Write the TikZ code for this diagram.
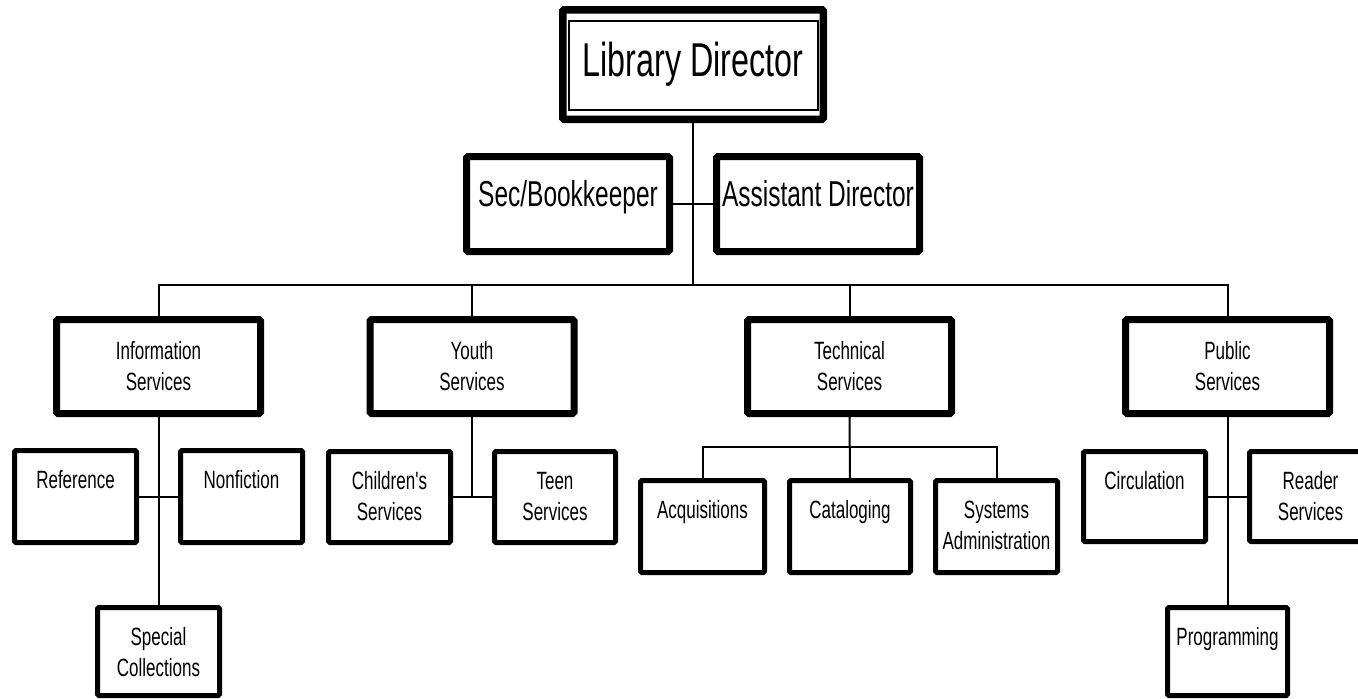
\documentclass[tikz,border=0pt]{standalone}
\usepackage{fontspec}
\setmainfont[FakeStretch=0.68, Ligatures=TeXOff]{Liberation Sans}
% box text: width, height, first baseline depth, content (top aligned)
\newcommand{\cardtext}[4]{\parbox[c][#2][t]{#1}{\centering\rule{0pt}{#3}#4}}
\begin{document}
\begin{tikzpicture}[x=1pt,y=-1pt,
  conn/.style={line width=2pt},
  boxbase/.style={draw, inner sep=0pt, outer sep=0pt, rounded corners=1.5pt},
  topbox/.style={boxbase, line width=7.5pt, font=\fontsize{47.5}{57}\selectfont},
  headbox/.style={boxbase, line width=7pt, font=\fontsize{36}{43}\selectfont},
  midbox/.style={boxbase, line width=7pt, font=\fontsize{25}{31}\selectfont},
  leafbox/.style={boxbase, line width=5pt, font=\fontsize{25}{31}\selectfont},
]
\useasboundingbox (0,0) rectangle (1358,699);
\clip (0,0) rectangle (1358,699);

% director
\node[topbox] (ld) at (693,64.5) {\cardtext{260.5pt}{109.5pt}{67pt}{Library Director}};
\draw[line width=1.8pt] ([shift={(6.25,11.25)}]ld.north west) rectangle ([shift={(-5.25,-9.25)}]ld.south east);

% staff
\node[headbox] (sb) at (568,204) {\cardtext{203pt}{95pt}{49.5pt}{Sec/Bookkeeper}};
\node[headbox] (ad) at (818,204) {\cardtext{203pt}{95pt}{49.5pt}{Assistant Director}};

% departments
\node[midbox] (info)   at (158.5,366.5)  {\cardtext{204pt}{94pt}{40pt}{Information\\Services}};
\node[midbox] (youth)  at (472,366.5)    {\cardtext{204pt}{94pt}{40pt}{Youth\\Services}};
\node[midbox] (tech)   at (849.5,366.5)  {\cardtext{204pt}{94pt}{40pt}{Technical\\Services}};
\node[midbox] (public) at (1227.5,366.5) {\cardtext{204pt}{94pt}{40pt}{Public\\Services}};

% units
\node[leafbox] (ref)    at (75.5,496.5)   {\cardtext{122pt}{92pt}{37.5pt}{Reference}};
\node[leafbox] (nonf)   at (241.5,496.5)  {\cardtext{122pt}{92pt}{37.5pt}{Nonfiction}};
\node[leafbox] (spec)   at (158.5,651.5)  {\cardtext{122pt}{88pt}{37.5pt}{Special\\Collections}};
\node[leafbox] (child)  at (389.5,497)    {\cardtext{122pt}{91pt}{37.5pt}{Children's\\Services}};
\node[leafbox] (teen)   at (555,497)      {\cardtext{121pt}{91pt}{37.5pt}{Teen\\Services}};
\node[leafbox] (acq)    at (702.5,526.5)  {\cardtext{124pt}{92pt}{37.5pt}{Acquisitions}};
\node[leafbox] (cat)    at (850,526.5)    {\cardtext{121pt}{92pt}{37.5pt}{Cataloging}};
\node[leafbox] (sys)    at (996.5,526.5)  {\cardtext{122pt}{92pt}{37.5pt}{Systems\\Administration}};
\node[leafbox] (circ)   at (1144.5,496.5) {\cardtext{122pt}{90pt}{37.5pt}{Circulation}};
\node[leafbox] (reader) at (1310.5,496.5) {\cardtext{122pt}{90pt}{37.5pt}{Reader\\Services}};
\node[leafbox] (prog)   at (1227.5,651.5) {\cardtext{120pt}{88pt}{37.5pt}{Programming}};

% connector junctions
\coordinate (bus)  at (693,285);
\coordinate (tbus) at (850,447);

% connectors
\draw[conn] (ld.south) -- (bus);
\draw[conn] (sb.east) -- (ad.west);
\draw[conn] (info.north) -- (info.north |- bus) -- (public.north |- bus) -- (public.north);
\draw[conn] (youth.north) -- (youth.north |- bus);
\draw[conn] (tech.north) -- (tech.north |- bus);
\draw[conn] (info.south) -- (spec.north);
\draw[conn] (ref.east) -- (nonf.west);
\draw[conn] (youth.south) -- (youth.south |- child.east);
\draw[conn] (child.east) -- (teen.west);
\draw[conn] (tech.south) -- (cat.north);
\draw[conn] (acq.north) -- (acq.north |- tbus) -- (sys.north |- tbus) -- (sys.north);
\draw[conn] (public.south) -- (prog.north);
\draw[conn] (circ.east) -- (reader.west);
\end{tikzpicture}
\end{document}
